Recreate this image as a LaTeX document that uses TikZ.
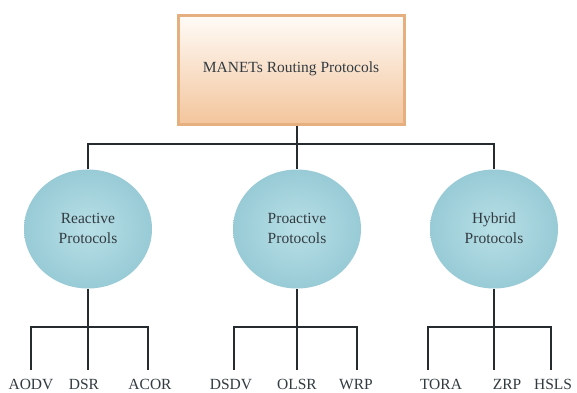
\documentclass[tikz,border=0pt]{standalone}
\usepackage{fontspec}
\setmainfont{Liberation Serif}
\usetikzlibrary{shapes.geometric}
\definecolor{boxtop}{HTML}{FFFBF7}
\definecolor{boxbot}{HTML}{F3C59C}
\definecolor{boxline}{HTML}{E6AF80}
\definecolor{ballin}{HTML}{B8DFE6}
\definecolor{ballout}{HTML}{98CBD6}
\definecolor{txt}{HTML}{323B40}
\definecolor{wirec}{HTML}{262B30}
\begin{document}
\begin{tikzpicture}[x=1pt,y=1pt,
  rootbox/.style={draw=boxline, line width=3pt, top color=boxtop, bottom color=boxbot,
    minimum width=226pt, minimum height=108pt, inner sep=0pt, text=txt,
    font=\fontsize{15.5}{18}\selectfont},
  ballnode/.style={ellipse, minimum width=128pt, minimum height=119pt, inner sep=0pt,
    inner color=ballin, outer color=ballout, text=txt, font=\fontsize{15.5}{20}\selectfont},
  leaf/.style={anchor=base, text=txt, inner sep=0pt, font=\fontsize{15.5}{18}\selectfont},
  wire/.style={draw=wirec, line width=2.7pt}
]
\useasboundingbox (0,0) rectangle (577,392);
\fill[white] (0,0) rectangle (577,392);

\node[rootbox] (box) at (291,322) {\raisebox{5pt}{MANETs Routing Protocols}};

\node[ballnode] (rea) at (88,163) {\raisebox{9pt}{\begin{tabular}{@{}c@{}}Reactive\\Protocols\end{tabular}}};
\node[ballnode] (pro) at (297,163) {\raisebox{9pt}{\begin{tabular}{@{}c@{}}Proactive\\Protocols\end{tabular}}};
\node[ballnode] (hyb) at (494,163) {\raisebox{9pt}{\begin{tabular}{@{}c@{}}Hybrid\\Protocols\end{tabular}}};

\coordinate (bar) at (0,248);
\coordinate (sub) at (0,65);

\draw[wire] (rea.north) -- (rea.north |- bar) -- (hyb.north |- bar) -- (hyb.north);
\draw[wire] (box.south -| pro.north) -- (pro.north);

% leaf labels
\node[leaf] (aodv) at (31,3) {AODV};
\node[leaf] (dsr)  at (84,3) {DSR};
\node[leaf] (acor) at (150,3) {ACOR};
\node[leaf] (dsdv) at (231,3) {DSDV};
\node[leaf] (olsr) at (297,3) {OLSR};
\node[leaf] (wrp)  at (356,3) {WRP};
\node[leaf] (tora) at (441,3) {TORA};
\node[leaf] (zrp)  at (507,3) {ZRP};
\node[leaf] (hsls) at (553,3) {HSLS};

% leaf line ends
\coordinate (a1) at (31,22);  \coordinate (a2) at (88,22);  \coordinate (a3) at (148,22);
\coordinate (p1) at (234,22); \coordinate (p2) at (297,22); \coordinate (p3) at (357,22);
\coordinate (h1) at (428,22); \coordinate (h2) at (494,22); \coordinate (h3) at (551,22);

\draw[wire] (rea.south) -- (a2);
\draw[wire] (a1) -- (a1 |- sub) -- (a3 |- sub) -- (a3);
\draw[wire] (pro.south) -- (p2);
\draw[wire] (p1) -- (p1 |- sub) -- (p3 |- sub) -- (p3);
\draw[wire] (hyb.south) -- (h2);
\draw[wire] (h1) -- (h1 |- sub) -- (h3 |- sub) -- (h3);
\end{tikzpicture}
\end{document}
